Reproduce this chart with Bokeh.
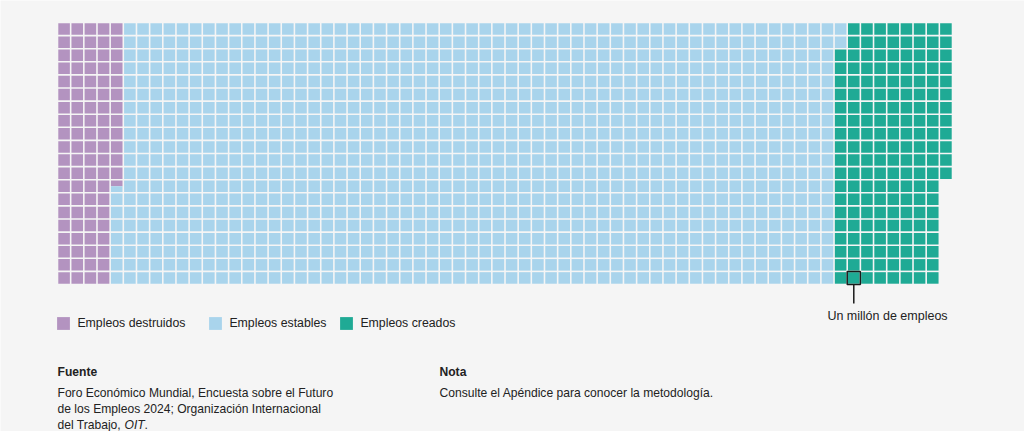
import math
from bokeh.plotting import figure
from bokeh.models import ColumnDataSource, Range1d, Label, Legend, LegendItem
from bokeh.embed import file_html
from bokeh.resources import INLINE

# ---- data (millions of jobs, 1 cell = 1 million) ----
categories = ["Empleos destruidos", "Empleos estables", "Empleos creados"]
values = [92.5, 1089.5, 170]
colors = ["#B393C0", "#A9D4EC", "#1FAA95"]
n_rows = 20
marker_cell = (60, 19)          # column, row of the "Un millón de empleos" example cell
marker_label = "Un millón de empleos"
source_title = "Fuente"
source_lines = ["Foro Económico Mundial, Encuesta sobre el Futuro",
                "de los Empleos 2024; Organización Internacional"]
source_last = ["del Trabajo, ", "OIT", "."]
note_title = "Nota"
note_text = "Consulte el Apéndice para conocer la metodología."

# ---- layout ----
W, H = 1024, 431
left_px, top_px = 57, 22
n_cols = math.ceil(sum(values) / n_rows)
px = 895 / n_cols
py = 262 / n_rows
g = 0.06
BG = "#F5F5F5"
TXT = "#222222"
FONT = "Liberation Sans"
FS = "12.1px"

p = figure(width=W, height=H, output_backend="svg", toolbar_location=None,
           x_range=Range1d(-left_px / px, (W - left_px) / px),
           y_range=Range1d((H - top_px) / py, -top_px / py),
           min_border=0, outline_line_color=None,
           background_fill_color=BG, border_fill_color=BG)
p.axis.visible = False
p.grid.visible = False

renderers = []
start = 0.0
for cat, val, col in zip(categories, values, colors):
    end = start + val
    L, R, T, B = [], [], [], []
    k = int(math.floor(start))
    while k < end:
        f0 = max(start, k) - k
        f1 = min(end, k + 1) - k
        if f1 > f0:
            c, r = divmod(k, n_rows)
            L.append(c + g)
            R.append(c + 1 - g)
            T.append(r + (g if f0 == 0 else f0))
            B.append(r + (1 - g if f1 == 1 else f1))
        k += 1
    src = ColumnDataSource(dict(left=L, right=R, top=T, bottom=B))
    rr = p.quad(left="left", right="right", top="top", bottom="bottom", source=src,
                fill_color=col, line_color=None)
    renderers.append(rr)
    start = end

# example cell marker
mc, mr = marker_cell
p.quad(left=[mc], right=[mc + 1], top=[mr], bottom=[mr + 1],
       fill_color=None, line_color="#1a1a1a", line_width=1.5)
p.segment(x0=[mc + 0.5], y0=[mr + 1], x1=[mc + 0.5], y1=[mr + 2.45],
          line_color="#1a1a1a", line_width=1.5)
p.add_layout(Label(x=887, y=H - 315, x_units="screen", y_units="screen", text=marker_label,
                   text_font=FONT, text_font_size="12.5px", text_color=TXT,
                   text_align="center", text_baseline="middle"))

# legend: one small legend per item, placed at the reference positions
legend_x = [57, 209, 340]
for cat, r, lx in zip(categories, renderers, legend_x):
    lg = Legend(items=[LegendItem(label=cat, renderers=[r])],
                orientation="horizontal", location=(lx - 1.6, H - 331.4),
                glyph_width=16, glyph_height=16, label_height=16, label_standoff=6,
                spacing=0, padding=0, margin=0, border_line_color=None,
                background_fill_alpha=0, label_text_font=FONT, label_text_font_size="12.3px",
                label_text_color=TXT)
    p.add_layout(lg)

def lab(x, ycenter, text, bold=False, italic=False):
    style = "bold" if bold else ("italic" if italic else "normal")
    p.add_layout(Label(x=x, y=H - ycenter, x_units="screen", y_units="screen", text=text,
                       text_font=FONT, text_font_size=FS, text_color=TXT,
                       text_font_style=style, text_baseline="middle"))

lab(57, 371, source_title, bold=True)
for i, line in enumerate(source_lines):
    lab(57, 392 + 16 * i, line)
lab(57, 424, source_last[0])
lab(124, 424, source_last[1], italic=True)
lab(144, 424, source_last[2])
lab(439, 371, note_title, bold=True)
lab(439, 392, note_text)

open("out.html", "w").write(file_html(p, INLINE))
